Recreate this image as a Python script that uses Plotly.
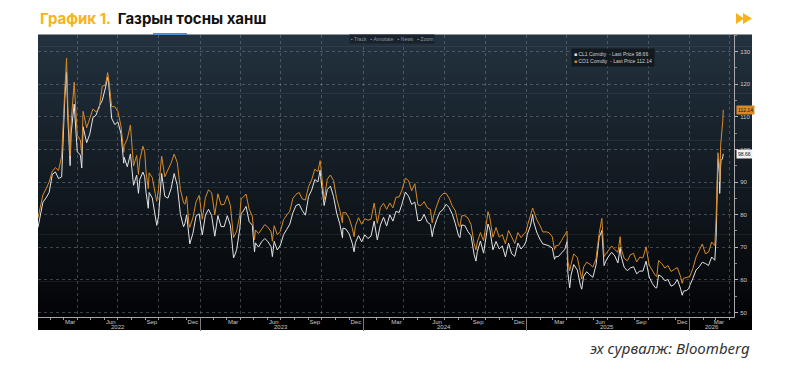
import plotly.graph_objects as go

# ---------------- data (weekly-ish closes, USD/bbl) ----------------
dates_2022 = ["2022-01-03","2022-01-07","2022-01-14","2022-01-21","2022-01-28","2022-02-04","2022-02-11","2022-02-18","2022-02-25",
              "2022-03-04","2022-03-08","2022-03-11","2022-03-16","2022-03-18","2022-03-25","2022-04-01","2022-04-08","2022-04-11",
              "2022-04-14","2022-04-22","2022-04-29","2022-05-06","2022-05-13","2022-05-20","2022-05-27","2022-06-03","2022-06-08",
              "2022-06-10","2022-06-17","2022-06-24","2022-07-01","2022-07-08","2022-07-14","2022-07-15","2022-07-22","2022-07-29",
              "2022-08-05","2022-08-12","2022-08-16","2022-08-19","2022-08-26","2022-08-30","2022-09-02","2022-09-07","2022-09-09",
              "2022-09-16","2022-09-23","2022-09-26","2022-09-30","2022-10-07","2022-10-14","2022-10-21","2022-10-28","2022-11-04",
              "2022-11-11","2022-11-18","2022-11-25","2022-11-28","2022-12-02","2022-12-07","2022-12-09","2022-12-16","2022-12-23",
              "2022-12-30"]
co1_2022 = [78.98,81.75,86.06,87.89,90.03,93.27,94.44,93.54,97.93,
            118.11,127.98,112.67,98.02,107.93,120.65,104.39,102.78,98.48,
            111.70,106.65,109.34,112.39,111.55,112.55,119.43,119.72,123.58,
            122.01,113.12,113.12,111.63,107.02,99.10,101.16,103.20,107.50,
            94.92,98.15,92.34,96.72,100.99,99.31,93.02,88.00,92.84,
            91.35,86.15,84.06,87.96,97.92,91.63,93.50,95.77,98.57,
            95.99,87.62,83.63,83.19,85.57,77.17,76.10,79.04,83.92,
            85.91]
cl1_2022 = [76.08,78.90,83.82,85.14,86.82,92.31,93.10,91.07,91.59,
            115.68,123.70,109.33,95.04,104.70,113.90,99.27,98.26,94.29,
            106.95,102.07,104.69,109.77,110.49,113.23,115.07,118.87,122.11,
            120.67,109.56,107.62,108.43,104.79,95.78,97.59,94.70,98.62,
            89.01,92.09,86.53,90.77,93.06,91.64,86.87,81.94,86.79,
            85.11,78.74,76.71,79.49,92.64,85.61,85.05,87.90,92.61,
            88.96,80.08,76.28,77.24,79.98,72.01,71.02,74.29,79.56,
            80.26]

dates_2023 = ["2023-01-06","2023-01-13","2023-01-20","2023-01-27","2023-02-03","2023-02-10","2023-02-17","2023-02-24",
              "2023-03-03","2023-03-10","2023-03-15","2023-03-17","2023-03-20","2023-03-24","2023-03-31","2023-04-03",
              "2023-04-06","2023-04-14","2023-04-21","2023-04-28","2023-05-03","2023-05-05","2023-05-12","2023-05-19",
              "2023-05-26","2023-06-02","2023-06-09","2023-06-12","2023-06-16","2023-06-23","2023-06-30","2023-07-07",
              "2023-07-14","2023-07-21","2023-07-28","2023-08-04","2023-08-11","2023-08-18","2023-08-25","2023-09-01",
              "2023-09-08","2023-09-15","2023-09-22","2023-09-27","2023-09-28","2023-10-04","2023-10-06","2023-10-13",
              "2023-10-20","2023-10-27","2023-11-03","2023-11-10","2023-11-16","2023-11-17","2023-11-24","2023-12-01",
              "2023-12-08","2023-12-12","2023-12-15","2023-12-22","2023-12-29"]
co1_2023 = [78.57,85.28,87.63,86.66,79.94,86.39,83.00,83.16,
            85.83,82.78,73.69,72.97,73.79,74.99,79.77,84.93,
            85.12,86.31,81.66,79.54,72.33,75.30,74.17,75.58,
            76.95,76.13,74.79,71.84,76.61,73.85,74.90,78.47,
            79.87,81.07,84.99,86.24,86.81,84.80,84.48,88.55,
            90.65,93.93,93.27,96.55,95.38,85.81,84.58,90.89,
            92.16,90.48,84.89,81.43,77.42,80.61,80.58,78.88,
            75.84,73.24,76.55,79.07,77.04]
cl1_2023 = [73.77,79.86,81.64,79.68,73.39,79.72,76.34,76.32,
            79.68,76.68,67.61,66.74,67.64,69.26,75.67,80.42,
            80.70,82.52,77.87,76.78,68.60,71.34,70.04,71.69,
            72.67,71.74,70.17,67.12,71.78,69.16,70.64,73.86,
            75.42,77.07,80.58,82.82,83.19,81.25,79.83,85.55,
            87.51,90.77,90.03,93.68,91.71,84.22,82.79,87.69,
            88.75,85.54,80.51,77.17,72.90,75.89,75.54,74.07,
            71.23,68.61,71.43,73.56,71.65]

dates_2024 = ["2024-01-05","2024-01-12","2024-01-19","2024-01-26","2024-02-02","2024-02-09","2024-02-16","2024-02-23",
              "2024-03-01","2024-03-08","2024-03-15","2024-03-22","2024-03-28","2024-04-05","2024-04-12","2024-04-19",
              "2024-04-26","2024-05-03","2024-05-10","2024-05-17","2024-05-24","2024-05-31","2024-06-04","2024-06-07",
              "2024-06-14","2024-06-21","2024-06-28","2024-07-05","2024-07-12","2024-07-19","2024-07-26","2024-08-02",
              "2024-08-05","2024-08-09","2024-08-16","2024-08-23","2024-08-30","2024-09-06","2024-09-10","2024-09-13",
              "2024-09-20","2024-09-27","2024-10-04","2024-10-07","2024-10-11","2024-10-18","2024-10-25","2024-11-01",
              "2024-11-08","2024-11-15","2024-11-22","2024-11-29","2024-12-06","2024-12-13","2024-12-20","2024-12-27",
              "2024-12-31"]
co1_2024 = [78.76,78.29,78.56,83.55,77.33,82.19,83.47,81.62,
            83.55,82.08,85.34,85.43,87.48,91.17,90.45,87.29,
            89.50,82.96,82.79,83.98,82.12,81.62,77.52,79.62,
            82.62,85.24,86.41,86.54,85.03,82.63,81.13,76.81,
            76.30,79.66,79.68,79.02,76.93,71.06,69.19,71.61,
            74.49,71.98,78.05,80.93,79.04,73.06,76.05,73.10,
            73.87,71.04,75.17,72.94,71.12,74.49,72.94,74.17,
            74.64]
cl1_2024 = [73.81,72.68,73.41,78.01,72.28,76.84,79.19,76.49,
            79.97,78.01,81.04,80.63,83.17,86.91,85.66,83.14,
            83.85,78.11,78.26,80.06,77.72,76.99,73.25,75.53,
            78.45,80.73,81.54,83.16,82.21,80.13,77.16,73.52,
            72.94,76.84,76.65,74.83,73.55,67.67,65.75,68.65,
            71.92,68.18,74.38,77.14,75.56,69.22,71.78,69.49,
            70.38,67.02,71.24,68.00,67.20,71.29,69.46,70.60,
            71.72]

dates_2025 = ["2025-01-03","2025-01-10","2025-01-15","2025-01-17","2025-01-24","2025-01-31","2025-02-07","2025-02-14",
              "2025-02-21","2025-02-28","2025-03-05","2025-03-07","2025-03-14","2025-03-21","2025-03-28","2025-04-02",
              "2025-04-04","2025-04-08","2025-04-11","2025-04-17","2025-04-25","2025-05-02","2025-05-05","2025-05-09",
              "2025-05-16","2025-05-23","2025-05-30","2025-06-06","2025-06-13","2025-06-19","2025-06-23","2025-06-24",
              "2025-06-27","2025-07-03","2025-07-11","2025-07-18","2025-07-25","2025-07-30","2025-08-01","2025-08-08",
              "2025-08-15","2025-08-22","2025-08-29","2025-09-05","2025-09-12","2025-09-19","2025-09-26","2025-10-03",
              "2025-10-10","2025-10-17","2025-10-20","2025-10-24","2025-10-31","2025-11-07","2025-11-14","2025-11-21",
              "2025-11-28","2025-12-05","2025-12-12","2025-12-16","2025-12-19","2025-12-26","2025-12-31"]
co1_2025 = [76.51,79.76,82.03,81.29,78.50,76.76,74.66,74.74,
            74.43,73.18,69.30,70.36,70.58,72.16,73.63,74.95,
            65.58,62.82,64.76,67.96,66.87,61.29,60.23,63.91,
            65.41,64.78,63.90,66.47,74.23,78.85,71.48,67.14,
            67.77,68.80,70.36,69.28,68.44,73.24,69.67,66.59,
            65.85,67.73,68.12,65.50,66.99,66.68,70.13,64.53,
            62.73,61.29,61.01,65.94,65.07,63.63,64.39,62.56,
            63.20,63.75,61.12,58.92,60.47,60.64,60.85]
cl1_2025 = [73.96,76.57,80.04,77.88,74.66,72.53,71.00,70.74,
            70.40,69.76,66.31,67.04,67.18,68.28,69.36,71.71,
            61.99,57.58,61.50,64.68,63.02,58.29,57.13,61.02,
            62.49,61.53,60.79,64.58,72.98,75.14,68.51,64.37,
            65.52,67.00,68.45,67.34,65.16,70.00,67.33,63.88,
            62.80,63.66,64.01,61.87,62.69,62.68,65.72,60.88,
            58.90,57.54,57.52,61.50,60.98,59.75,60.09,58.06,
            58.55,60.08,57.44,55.27,56.52,56.74,57.42]

dates_2026 = ["2026-01-02","2026-01-09","2026-01-16","2026-01-23","2026-01-30","2026-02-06","2026-02-13","2026-02-20",
              "2026-02-27","2026-03-02","2026-03-03","2026-03-04","2026-03-05","2026-03-06","2026-03-09","2026-03-10",
              "2026-03-11","2026-03-12","2026-03-13","2026-03-16","2026-03-17","2026-03-18"]
co1_2026 = [61.0,63.5,67.0,69.0,71.0,68.0,68.5,71.6,
            70.5,79.0,85.0,90.5,94.6,99.0,95.5,90.0,
            93.0,101.2,102.8,105.8,108.9,112.14]
cl1_2026 = [58.3,60.5,63.0,64.0,65.4,65.0,64.4,67.0,
            66.0,73.0,78.0,84.4,91.5,97.0,93.0,86.5,
            90.0,94.6,96.6,97.1,97.6,98.66]

MONTH_TICK_DATES = ["2022-03-16","2022-06-15","2022-09-15","2022-12-16",
                    "2023-03-16","2023-06-15","2023-09-15","2023-12-16",
                    "2024-03-16","2024-06-15","2024-09-15","2024-12-16",
                    "2025-03-16","2025-06-15","2025-09-15","2025-12-16",
                    "2026-03-08"]
MONTH_TICK_TEXT = ["Mar","Jun","Sep","Dec"] * 4 + ["Mar"]
GRID_DATES = ["2022-04-01","2022-07-01","2022-10-01","2023-01-01","2023-04-01","2023-07-01","2023-10-01",
              "2024-01-01","2024-04-01","2024-07-01","2024-10-01","2025-01-01","2025-04-01","2025-07-01",
              "2025-10-01","2026-01-01","2026-04-01"]
YEAR_SEP_DATES = ["2023-01-01","2024-01-01","2025-01-01","2026-01-01"]
YEAR_LABEL_DATES = ["2022-07-01","2023-07-01","2024-07-01","2025-07-01","2026-02-20"]
YEAR_LABELS = ["2022","2023","2024","2025","2026"]
Y_TICKS = [50, 60, 70, 80, 90, 100, 110, 120, 130]

dates = dates_2022 + dates_2023 + dates_2024 + dates_2025 + dates_2026
co1 = co1_2022 + co1_2023 + co1_2024 + co1_2025 + co1_2026
cl1 = cl1_2022 + cl1_2023 + cl1_2024 + cl1_2025 + cl1_2026

# ---------------- layout geometry ----------------
W, H = 800, 366
L, R, T, B = 38, 66, 35, 49
PW, PH = W - L - R, H - T - B
X_RANGE = ["2022-01-03", "2026-04-11"]
Y_RANGE = [48.6, 135.1]

def px(x):
    return (x - L) / PW

def py(y):
    return 1 - (y - T) / PH

WHITE = "#e4e4e4"
ORANGE = "#d98a28"

fig = go.Figure()
fig.add_trace(go.Scatter(x=dates, y=cl1, mode="lines", name="CL1 Comdty",
                         line=dict(color=WHITE, width=1), showlegend=False))
fig.add_trace(go.Scatter(x=dates, y=co1, mode="lines", name="CO1 Comdty",
                         line=dict(color=ORANGE, width=1), showlegend=False))
for ax in ["x2", "x3", "x4"]:
    fig.add_trace(go.Scatter(x=dates, y=cl1, xaxis=ax, yaxis="y", mode="lines",
                             opacity=0, hoverinfo="skip", showlegend=False))

# gradient background panel
shapes = []
top_c, bot_c = (35, 50, 63), (3, 4, 6)
N = 48
x_right = px(752)
for i in range(N):
    y0, y1 = i / N, (i + 1) / N
    f = 1 - (y0 + y1) / 2
    c = tuple(int(round(top_c[k] * (1 - f) + bot_c[k] * f)) for k in range(3))
    shapes.append(dict(type="rect", xref="paper", yref="paper", x0=0, x1=x_right,
                       y0=y0, y1=y1 + 0.002, fillcolor=f"rgb{c}", line=dict(width=0), layer="below"))
shapes.append(dict(type="rect", xref="paper", yref="paper", x0=0, x1=x_right,
                   y0=py(330), y1=0, fillcolor="#000000", line=dict(width=0), layer="below"))
# small blue marker on top edge
shapes.append(dict(type="line", xref="paper", yref="paper", x0=px(153), x1=px(187),
                   y0=py(34), y1=py(34), line=dict(color="#4d8fd6", width=2)))
# double arrow icon (top right)
def tri(xa, xb, ya, yb):
    ym = (ya + yb) / 2
    return f"M {px(xa)},{py(ya)} L {px(xb)},{py(ym)} L {px(xa)},{py(yb)} Z"
shapes.append(dict(type="path", xref="paper", yref="paper", path=tri(736, 744, 13, 24),
                   fillcolor="#F6B418", line=dict(width=0)))
shapes.append(dict(type="path", xref="paper", yref="paper", path=tri(743, 752, 13, 24),
                   fillcolor="#F6B418", line=dict(width=0)))

tick_font = dict(family="Liberation Sans, Arial, sans-serif", size=6, color="#c9c9c9")
grid_col = "rgba(150,160,170,0.38)"

annotations = [
    dict(xref="paper", yref="paper", x=0, y=py(19), xanchor="left", yanchor="middle",
         text="<b><span style='color:#F6B418'>График 1.</span>  Газрын тосны ханш</b>",
         showarrow=False, font=dict(family="Inter, Noto Sans, sans-serif", size=15, color="#111111")),
    dict(xref="paper", yref="paper", x=px(752), y=py(348), xanchor="right", yanchor="middle",
         text="<i>эх сурвалж: Bloomberg</i>", showarrow=False,
         font=dict(family="Noto Sans, sans-serif", size=15, color="#333333")),
    dict(xref="paper", yref="paper", x=px(392), y=py(39), xanchor="center", yanchor="middle",
         text="▪ Track   ▪ Annotate   ▪ News   ▪ Zoom", showarrow=False, bgcolor="#18222c",
         borderpad=1, font=dict(family="Liberation Sans, Arial, sans-serif", size=5, color="#8d979f")),
    dict(xref="paper", yref="paper", x=px(571), y=py(48), xanchor="left", yanchor="top", align="left",
         text=(f"<span style='color:{WHITE}'>■</span> CL1 Comdty  - Last Price {cl1[-1]:.2f}<br>"
               f"<span style='color:{ORANGE}'>■</span> CO1 Comdty  - Last Price {co1[-1]:.2f}"),
         showarrow=False, bgcolor="rgba(18,24,30,0.95)", borderpad=2,
         font=dict(family="Liberation Sans, Arial, sans-serif", size=5, color="#d0d0d0")),
    dict(xref="paper", yref="y", x=1.003, y=co1[-1], xanchor="left", yanchor="middle",
         text=f"{co1[-1]:.2f}", showarrow=False, bgcolor=ORANGE, borderpad=1,
         font=dict(family="Liberation Sans, Arial, sans-serif", size=5, color="#111111")),
    dict(xref="paper", yref="y", x=1.003, y=cl1[-1], xanchor="left", yanchor="middle",
         text=f"{cl1[-1]:.2f}", showarrow=False, bgcolor="#f2f2f2", borderpad=1,
         font=dict(family="Liberation Sans, Arial, sans-serif", size=5, color="#111111")),
]
for d, t in zip(YEAR_LABEL_DATES, YEAR_LABELS):
    annotations.append(dict(xref="x", yref="paper", x=d, y=py(327), xanchor="center", yanchor="middle",
                            text=t, showarrow=False, font=tick_font))

fig.update_layout(
    width=W, height=H,
    margin=dict(l=L, r=R, t=T, b=B, pad=0),
    paper_bgcolor="#ffffff", plot_bgcolor="rgba(0,0,0,0)",
    showlegend=False,
    shapes=shapes, annotations=annotations,
    xaxis=dict(type="date", range=X_RANGE, tickmode="array", tickvals=GRID_DATES,
               showticklabels=False, ticks="", showgrid=True, gridcolor=grid_col, griddash="dot",
               gridwidth=1, showline=True, linecolor="#a8a8a8", linewidth=1, zeroline=False),
    xaxis2=dict(type="date", range=X_RANGE, overlaying="x", anchor="y", side="bottom",
                tickmode="array", tickvals=MONTH_TICK_DATES, ticktext=MONTH_TICK_TEXT,
                ticks="", showgrid=False, showline=False, zeroline=False, tickfont=tick_font,
                ticklabelstandoff=0),
    xaxis3=dict(type="date", range=X_RANGE, overlaying="x", anchor="y", side="bottom",
                tickmode="linear", tick0="2022-01-01", dtick="M1", ticks="outside", ticklen=2,
                tickcolor="#9a9a9a", showticklabels=False, showgrid=False, showline=False, zeroline=False),
    xaxis4=dict(type="date", range=X_RANGE, overlaying="x", anchor="y", side="bottom",
                tickmode="array", tickvals=YEAR_SEP_DATES, ticks="outside", ticklen=13,
                tickcolor="#7a7a7a", showticklabels=False, showgrid=False, showline=False, zeroline=False),
    yaxis=dict(range=Y_RANGE, side="right", tickmode="array", tickvals=Y_TICKS,
               ticks="outside", ticklen=3, tickcolor="#b5b5b5", showgrid=True, gridcolor=grid_col,
               griddash="dot", showline=True, linecolor="#a8a8a8", linewidth=1, zeroline=False,
               tickfont=tick_font, ticklabelstandoff=1,
               minor=dict(dtick=5, tick0=0, ticks="outside", ticklen=2, tickcolor="#8a8a8a", showgrid=False)),
)

fig.write_html("out.html", config={"displayModeBar": False},
               post_script="document.body.style.margin='0px';")
